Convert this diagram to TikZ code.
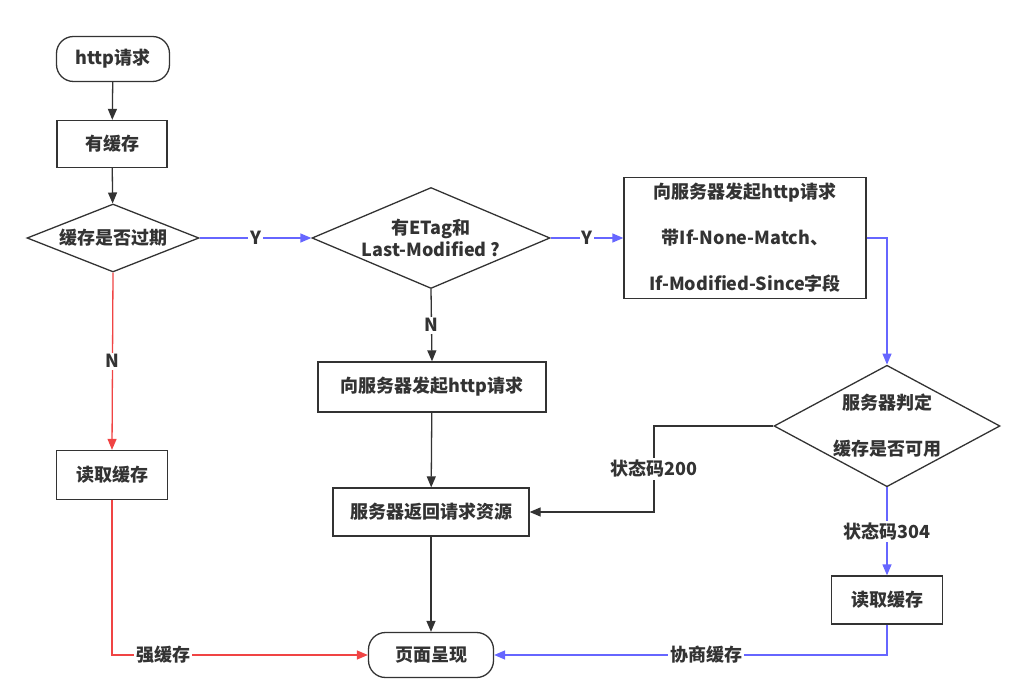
\documentclass[tikz,border=0pt]{standalone}
\usepackage{fontspec}
\setmainfont{Noto Sans CJK SC}
\usetikzlibrary{arrows.meta,positioning,shapes.geometric}
\definecolor{flowdark}{RGB}{51,51,51}
\definecolor{flowblue}{RGB}{102,102,255}
\definecolor{flowred}{RGB}{240,68,68}

\begin{document}
\begin{tikzpicture}[x=1pt,y=-1pt,
  every node/.style={font=\fontsize{18}{21}\selectfont\bfseries,text=flowdark},
  box/.style={draw=flowdark,line width=1.3pt,inner sep=0pt},
  term/.style={box,rounded corners=17pt},
  decide/.style={draw=flowdark,line width=1.3pt,diamond,inner sep=0pt,align=center},
  lab/.style={fill=white,inner sep=2pt},
  arr/.style={draw=flowdark,line width=1.3pt,-{Triangle[length=11pt,width=9pt]}},
  bluearr/.style={arr,draw=flowblue},
  redarr/.style={arr,draw=flowred}]
\useasboundingbox (0,0) rectangle (1009,692);
% Nodes
\node[term,minimum width=113pt,minimum height=45pt] (start) at (113,59) {http请求};
\node[box,minimum width=110pt,minimum height=47pt] (cache) at (112,144) {有缓存};
\node[decide,aspect=2.53,minimum width=172pt,minimum height=68pt] (expired) at (113,238) {缓存是否过期};
\node[decide,aspect=2.36,minimum width=238pt,minimum height=101pt] (etag) at (431,238) {有ETag和\\[1pt]Last-Modified ?};
\node[box,minimum width=242pt,minimum height=121pt,align=center] (reqhdr) at (745,238)
  {向服务器发起http请求\\[25pt]带If-None-Match、\\[25pt]If-Modified-Since字段};
\node[decide,aspect=1.86,minimum width=219pt,minimum height=118pt] (judge) at (887,426) {服务器判定\\[25pt]缓存是否可用};
\node[box,minimum width=111pt,minimum height=49pt] (readl) at (112,475) {读取缓存};
\node[box,minimum width=228pt,minimum height=50pt] (req) at (432,387) {向服务器发起http请求};
\node[box,minimum width=196pt,minimum height=48pt] (ret) at (431,512) {服务器返回请求资源};
\node[box,minimum width=111pt,minimum height=48pt] (readr) at (887,600) {读取缓存};
\node[term,minimum width=125pt,minimum height=45pt] (show) at (431,655) {页面呈现};
\coordinate (c200) at (654,426);
% Connectors
\draw[arr] (start) -- (cache);
\draw[arr] (cache) -- (expired);
\draw[bluearr] (expired) -- node[lab]{Y} (etag);
\draw[bluearr] (etag) -- node[lab]{Y} (reqhdr);
\draw[bluearr] (reqhdr.east) -| (judge.north);
\draw[redarr] (expired.south) -- node[lab]{N} (readl.north);
\draw[arr] (etag.south) -- node[lab]{N} (req.north);
\draw[arr] (req) -- (ret);
\draw[arr] (ret) -- (show);
\draw[arr] (judge.west) -- (c200) |- node[lab,pos=0.25]{状态码200} (ret.east);
\draw[bluearr] (judge.south) -- node[lab]{状态码304} (readr.north);
\draw[redarr] (readl.south) |- node[lab,pos=0.6]{强缓存} (show.west);
\draw[bluearr] (readr.south) |- node[lab,pos=0.73]{协商缓存} (show.east);
\end{tikzpicture}
\end{document}
